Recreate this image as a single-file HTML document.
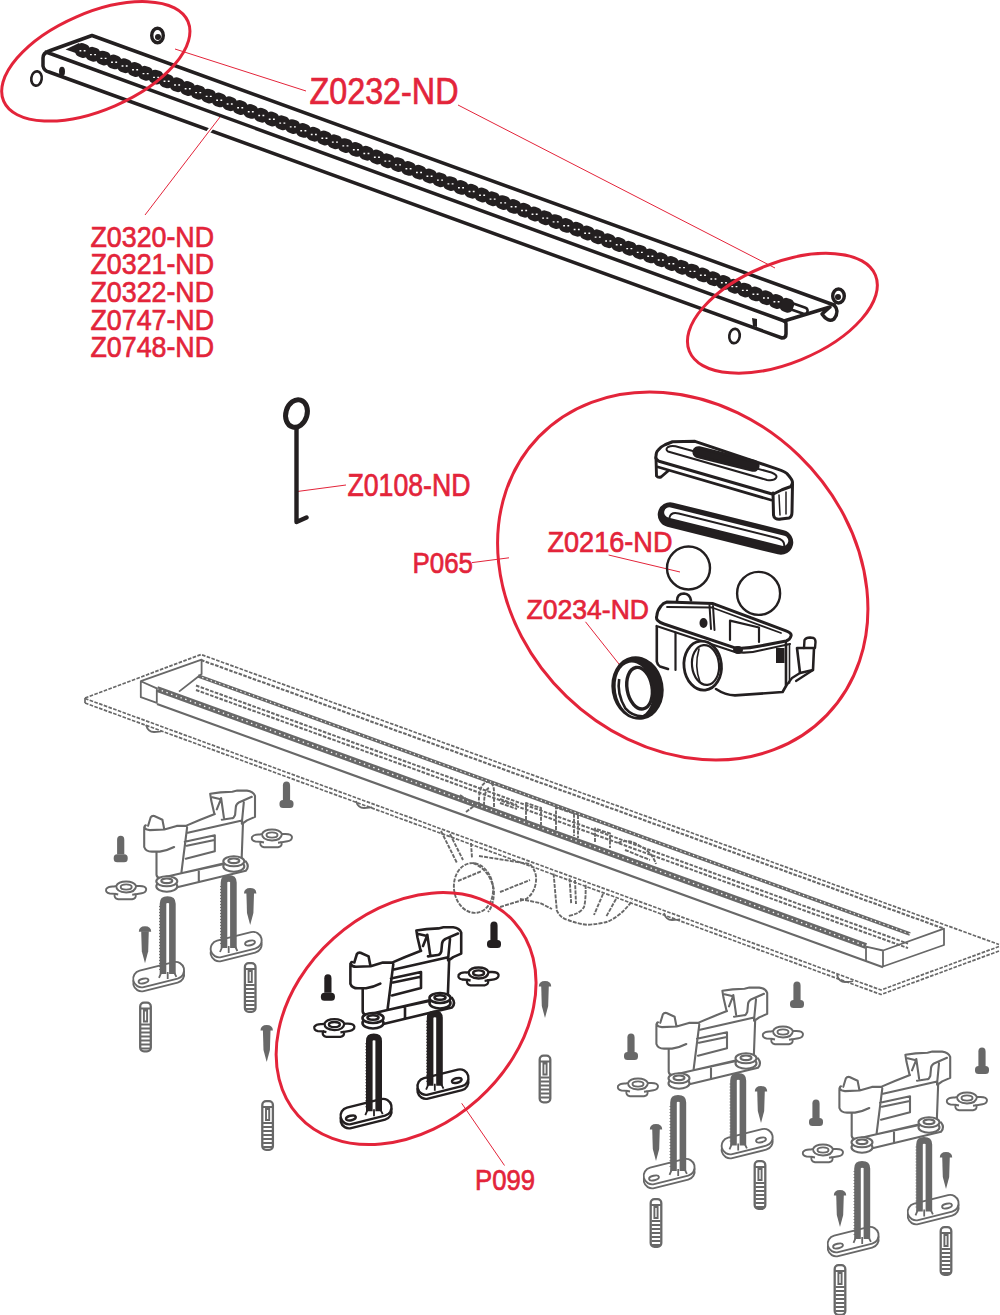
<!DOCTYPE html>
<html><head><meta charset="utf-8"><style>
html,body{margin:0;padding:0;background:#fff;}
svg{display:block;}
text{font-family:"Liberation Sans",sans-serif;fill:#e3243a;stroke:#e3243a;stroke-width:0.7;}
</style></head><body>
<svg width="1000" height="1315" viewBox="0 0 1000 1315">
<rect width="1000" height="1315" fill="#fff"/>
<!-- CHANNEL -->
<g fill="none" stroke="#686868" stroke-width="1.7" stroke-linejoin="round">
<path d="M85,698 L201,654.5 L999,944.5" stroke-dasharray="3.6 1.4"/>
<path d="M85,698.5 L881,990 L999,946.5" stroke-dasharray="3.6 1.4"/>
<path d="M85,703 L881,994.5 L999,951" stroke-dasharray="3.6 1.4"/>
<path d="M85,698 L85,703" />
<path d="M201,660 L944,928.6" stroke-dasharray="3.6 1.4" stroke-width="2.1"/>
<path d="M198,675.9 L910,934" stroke-width="3.6"/>
<path d="M198,675.9 L910,934" stroke="#fff" stroke-width="1.1" stroke-dasharray="1.3 3.2"/>
<path d="M196,685.5 L908,943.6" stroke-dasharray="3.6 1.4" stroke-width="2"/>
<path d="M196,690 L908,948.1" stroke-dasharray="3.6 1.4" stroke-width="2"/>
<path d="M157,689 L866,946" stroke-width="6"/>
<path d="M157,689 L866,946" stroke="#fff" stroke-width="1.3" stroke-dasharray="1.4 3.6"/>
<path d="M157,704 L883,967.2" stroke-width="2.2"/>
<path d="M140.8,681.2 L156.8,688.4 L156.8,702.8 L140.8,697.2 Z M140.8,681.2 L201.6,659.6 L201.6,674 L179,691.6" stroke-width="1.8"/>
<path d="M866,946.6 L883,950.5 L944,928.6 L944,945 L883,966.5 L883,950.5 M866,946.6 L866,961" stroke-width="1.8"/>
<path d="M146,725 Q148,732 154,732 Q160,732 162,731" stroke-width="1.8"/>
<path d="M356,801 Q358,808 364,808 Q370,808 372,807" stroke-width="1.8"/>
<path d="M664,913 Q666,920 672,920 Q678,920 680,919" stroke-width="1.8"/>
<path d="M837,975 Q839,982 845,982 Q851,982 853,981" stroke-width="1.8"/>
</g>
<g fill="none" stroke="#686868" stroke-width="1.9" stroke-linejoin="round" stroke-dasharray="4 1.2">
<path d="M479,806 Q478,786 486,782 Q494,781 494,792 L494,808"/>
<path d="M484,806 Q484,790 489,788"/>
<path d="M500,799 L517,805 M500,803 L517,809"/>
<path d="M526,820 L526,803 L541,808 L541,825"/>
<path d="M556,830 L556,807.5 L574,813.5 L574,836 M578,815 L578,838"/>
<path d="M595,842 L595,828.5 L610,833.5 L610,848"/>
<path d="M618,843 Q628,838 640,846 Q652,852 656,864 M625,850 L650,860"/>
<path d="M460,795 L478,807 M466,812 L478,803"/>
<path d="M441,831 L457,863 M450,834 L463,860 M471,843 L472,858"/>
<ellipse cx="473.5" cy="888" rx="19.5" ry="25" transform="rotate(-8 473.5 888)"/>
<path d="M473,863 Q490,870 494,890 Q494,905 488,912"/>
<path d="M479,856 L530,864 Q537,872 536,881 Q535,893 526,899 L500,907"/>
<path d="M458,881 L482,871 M500,892 L530,880"/>
<path d="M520,899 L540,903 L552,909"/>
<path d="M553.6,873.6 L556.8,910.4 Q560,918 568,920 Q578,924 587.2,924.8 Q600,924 608,921.6 Q622,915 632,900.8"/>
<path d="M569.6,878.4 L571.2,904 M575,880 L576,904 M585.6,884.8 Q586,900 584,907 Q580,914 568,916 M603,894 L594,915 M616,899 L606,917"/>
</g>
<!-- LEGS -->
<g transform="translate(131.5,965)" fill="#fff" stroke="#686868" stroke-width="1.9"><rect x="2" y="5" width="52" height="17" rx="8.5" transform="rotate(-14 28 17)"/><rect x="2" y="1" width="52" height="17" rx="8.5" transform="rotate(-14 28 13)"/><ellipse cx="12" cy="16" rx="5" ry="2.3" transform="rotate(-14 12 16)"/></g>
<g transform="translate(209,935)" fill="#fff" stroke="#686868" stroke-width="1.9"><rect x="2" y="5" width="52" height="17" rx="8.5" transform="rotate(-14 28 17)"/><rect x="2" y="1" width="52" height="17" rx="8.5" transform="rotate(-14 28 13)"/><ellipse cx="41" cy="8" rx="5" ry="2.3" transform="rotate(-14 41 8)"/></g>
<path fill="none" stroke="#686868" stroke-width="6.6" d="M163,973.9 L163,903.7 Q163,899.6 167.5,899.6 Q172.4,899.6 172.4,903.7 L172.4,973.9"/><path fill="none" stroke="#686868" stroke-width="1.8" d="M162,970.9 L159,977.9 M173.4,970.9 L176.4,976.9 M167.7,971.9 L167.7,978.9"/><path fill="none" stroke="#686868" stroke-width="1.2" stroke-dasharray="1 2" d="M159.7,969.9 L159.7,905.2"/>
<path fill="none" stroke="#686868" stroke-width="6.6" d="M224,948 L224,882.5 Q224,878.4 228.5,878.4 Q233.4,878.4 233.4,882.5 L233.4,948"/><path fill="none" stroke="#686868" stroke-width="1.8" d="M223,945 L220,952 M234.4,945 L237.4,951 M228.7,946 L228.7,953"/><path fill="none" stroke="#686868" stroke-width="1.2" stroke-dasharray="1 2" d="M220.7,944 L220.7,884"/>
<g transform="translate(-206.2,-136.7)" fill="none" stroke="#686868" stroke-width="2.1" stroke-linejoin="round" stroke-linecap="round"><path d="M352,962 Q350.4,962.5 350.4,966 L350.4,983.7 Q352,988.3 358,988.3 L366,988.3 Q374,987 380.3,983.7 M354.3,962.5 L356.9,954 Q358,952.3 360.5,952.7 L368.6,956.4 L370.4,965.7 M350.4,964 Q352,966.8 356,966.8 L370.6,966.2 L382.9,962.6 L393,962.6 M362.7,989 L362.7,1011.5 Q363,1014 366,1015 M393.3,964.2 L387.5,1010 M392,962.6 Q405,957 421,950.8 M394,969.5 L447,957.5 M391,978.5 L421,972 L421,988 L392,995.5 M393,982.5 L419.5,977 M449.2,959 L447.8,997 L387.5,1010 M416.4,930.5 L426.6,929.1 L438.5,928.4 L443.4,927.3 L453.2,927.3 Q459.5,928 461.2,932.6 L461.2,953.6 L453.2,957.1 L448.3,960.6 M416.4,930.5 L417.5,937.5 L420.3,949.4 L421,950.8 M418.5,934 L427,936 L423,946 M427.3,934.7 L430.1,954.3 M458,933.5 L445.5,938.9 Q442,941 442,944 L441.3,951.5 Q440,955 437.8,955 L428,956.4 M450,939 L448,960 M366,1015 L447.8,996 M375,1026 L452,1007.5 Q456,1003 452,998 M405,1007.5 L405,1018.5"/><g fill="#fff"><ellipse cx="373" cy="1023" rx="10.5" ry="5.5"/><ellipse cx="373" cy="1018" rx="10.5" ry="5"/><ellipse cx="373" cy="1017.5" rx="5.5" ry="2.3"/><ellipse cx="440" cy="1003" rx="10.5" ry="5.5"/><ellipse cx="440" cy="998" rx="10.5" ry="5"/><ellipse cx="440" cy="997.5" rx="5.5" ry="2.3"/></g></g>
<path fill="#686868" d="M117.1,854.3 L117.1,839.8 Q117.1,835.8 120.7,835.8 Q124.3,835.8 124.3,839.8 L124.3,854.3 Z"/><rect fill="#686868" x="113.7" y="854.3" width="14" height="8" rx="3.5"/>
<path fill="#686868" d="M282.9,800 L282.9,785.5 Q282.9,781.5 286.5,781.5 Q290.1,781.5 290.1,785.5 L290.1,800 Z"/><rect fill="#686868" x="279.5" y="800" width="14" height="8" rx="3.5"/>
<g transform="translate(105.2,881)" fill="#fff" stroke="#686868" stroke-width="1.9"><path d="M9,5.5 Q3,5 1,8 Q0,11.5 4.5,12.5 L9.5,12.8 Q8.5,17.5 13,18.3 L27,18.3 Q31.5,17.5 30.5,13.3 L36.5,12.3 Q41,11.5 41,8 Q40.5,5 34.5,5 L31,5 Q28.5,0.5 21,0.5 Q13,0.5 11,5 Z"/><path fill="none" d="M11,5 Q11,11 21,11.5 Q30,11.5 31,5"/><ellipse cx="21" cy="6" rx="5.5" ry="2.6"/><path fill="none" d="M9.5,12.8 L13,13.5 M30.5,13.3 L27,13.8"/></g>
<g transform="translate(251,829)" fill="#fff" stroke="#686868" stroke-width="1.9"><path d="M9,5.5 Q3,5 1,8 Q0,11.5 4.5,12.5 L9.5,12.8 Q8.5,17.5 13,18.3 L27,18.3 Q31.5,17.5 30.5,13.3 L36.5,12.3 Q41,11.5 41,8 Q40.5,5 34.5,5 L31,5 Q28.5,0.5 21,0.5 Q13,0.5 11,5 Z"/><path fill="none" d="M11,5 Q11,11 21,11.5 Q30,11.5 31,5"/><ellipse cx="21" cy="6" rx="5.5" ry="2.6"/><path fill="none" d="M9.5,12.8 L13,13.5 M30.5,13.3 L27,13.8"/></g>
<g fill="#686868"><path d="M138.8,931.8 Q139,926.3 145,926.3 Q151,926.3 151.2,931.8 Z"/><path d="M141.2,931.3 L148.8,931.3 L148.2,951.3 L145,963.3 L141.8,951.3 Z"/></g>
<g fill="#686868"><path d="M244,893.5 Q244.2,888 250.2,888 Q256.2,888 256.4,893.5 Z"/><path d="M246.4,893 L254,893 L253.4,913 L250.2,925 L247,913 Z"/></g>
<g fill="none" stroke="#686868" stroke-width="2.3"><rect x="140.2" y="1002.6" width="10.6" height="48.8" rx="3.8"/><path d="M140.2,1008.5 H150.8 M143.9,1010.5 V1021.5 H147.1 V1010.5 Z" stroke-width="1.9"/><path d="M141,1024.5 H150 M141,1028.5 H150 M141,1032.5 H150 M141,1036.5 H150 M141,1040.5 H150 M141,1044.5 H150 M141,1048.5 H150" stroke-width="2"/></g>
<g fill="none" stroke="#686868" stroke-width="2.3"><rect x="244.9" y="963.1" width="10.6" height="48.8" rx="3.8"/><path d="M244.9,969 H255.5 M248.6,971 V982 H251.8 V971 Z" stroke-width="1.9"/><path d="M245.7,985 H254.7 M245.7,989 H254.7 M245.7,993 H254.7 M245.7,997 H254.7 M245.7,1001 H254.7 M245.7,1005 H254.7 M245.7,1009 H254.7" stroke-width="2"/></g>
<g transform="translate(338.9,1102)" fill="#fff" stroke="#231f20" stroke-width="2.4"><rect x="2" y="5" width="52" height="17" rx="8.5" transform="rotate(-14 28 17)"/><rect x="2" y="1" width="52" height="17" rx="8.5" transform="rotate(-14 28 13)"/><ellipse cx="12" cy="16" rx="5" ry="2.3" transform="rotate(-14 12 16)"/></g>
<g transform="translate(415.8,1072.5)" fill="#fff" stroke="#231f20" stroke-width="2.4"><rect x="2" y="5" width="52" height="17" rx="8.5" transform="rotate(-14 28 17)"/><rect x="2" y="1" width="52" height="17" rx="8.5" transform="rotate(-14 28 13)"/><ellipse cx="41" cy="8" rx="5" ry="2.3" transform="rotate(-14 41 8)"/></g>
<path fill="none" stroke="#231f20" stroke-width="6.6" d="M369.3,1111.2 L369.3,1041 Q369.3,1036.9 373.8,1036.9 Q378.7,1036.9 378.7,1041 L378.7,1111.2"/><path fill="none" stroke="#231f20" stroke-width="1.8" d="M368.3,1108.2 L365.3,1115.2 M379.7,1108.2 L382.7,1114.2 M374,1109.2 L374,1116.2"/><path fill="none" stroke="#231f20" stroke-width="1.2" stroke-dasharray="1 2" d="M366,1107.2 L366,1042.5"/>
<path fill="none" stroke="#231f20" stroke-width="6.6" d="M430.1,1085.7 L430.1,1018 Q430.1,1013.9 434.6,1013.9 Q439.5,1013.9 439.5,1018 L439.5,1085.7"/><path fill="none" stroke="#231f20" stroke-width="1.8" d="M429.1,1082.7 L426.1,1089.7 M440.5,1082.7 L443.5,1088.7 M434.8,1083.7 L434.8,1090.7"/><path fill="none" stroke="#231f20" stroke-width="1.2" stroke-dasharray="1 2" d="M426.8,1081.7 L426.8,1019.5"/>
<g transform="translate(0,0)" fill="none" stroke="#231f20" stroke-width="2.6" stroke-linejoin="round" stroke-linecap="round"><path d="M352,962 Q350.4,962.5 350.4,966 L350.4,983.7 Q352,988.3 358,988.3 L366,988.3 Q374,987 380.3,983.7 M354.3,962.5 L356.9,954 Q358,952.3 360.5,952.7 L368.6,956.4 L370.4,965.7 M350.4,964 Q352,966.8 356,966.8 L370.6,966.2 L382.9,962.6 L393,962.6 M362.7,989 L362.7,1011.5 Q363,1014 366,1015 M393.3,964.2 L387.5,1010 M392,962.6 Q405,957 421,950.8 M394,969.5 L447,957.5 M391,978.5 L421,972 L421,988 L392,995.5 M393,982.5 L419.5,977 M449.2,959 L447.8,997 L387.5,1010 M416.4,930.5 L426.6,929.1 L438.5,928.4 L443.4,927.3 L453.2,927.3 Q459.5,928 461.2,932.6 L461.2,953.6 L453.2,957.1 L448.3,960.6 M416.4,930.5 L417.5,937.5 L420.3,949.4 L421,950.8 M418.5,934 L427,936 L423,946 M427.3,934.7 L430.1,954.3 M458,933.5 L445.5,938.9 Q442,941 442,944 L441.3,951.5 Q440,955 437.8,955 L428,956.4 M450,939 L448,960 M366,1015 L447.8,996 M375,1026 L452,1007.5 Q456,1003 452,998 M405,1007.5 L405,1018.5"/><g fill="#fff"><ellipse cx="373" cy="1023" rx="10.5" ry="5.5"/><ellipse cx="373" cy="1018" rx="10.5" ry="5"/><ellipse cx="373" cy="1017.5" rx="5.5" ry="2.3"/><ellipse cx="440" cy="1003" rx="10.5" ry="5.5"/><ellipse cx="440" cy="998" rx="10.5" ry="5"/><ellipse cx="440" cy="997.5" rx="5.5" ry="2.3"/></g></g>
<path fill="#231f20" d="M324.3,992.8 L324.3,978.3 Q324.3,974.3 327.9,974.3 Q331.5,974.3 331.5,978.3 L331.5,992.8 Z"/><rect fill="#231f20" x="320.9" y="992.8" width="14" height="8" rx="3.5"/>
<path fill="#231f20" d="M490.4,940 L490.4,925.5 Q490.4,921.5 494,921.5 Q497.6,921.5 497.6,925.5 L497.6,940 Z"/><rect fill="#231f20" x="487" y="940" width="14" height="8" rx="3.5"/>
<g transform="translate(313.4,1018.6)" fill="#fff" stroke="#231f20" stroke-width="2.3"><path d="M9,5.5 Q3,5 1,8 Q0,11.5 4.5,12.5 L9.5,12.8 Q8.5,17.5 13,18.3 L27,18.3 Q31.5,17.5 30.5,13.3 L36.5,12.3 Q41,11.5 41,8 Q40.5,5 34.5,5 L31,5 Q28.5,0.5 21,0.5 Q13,0.5 11,5 Z"/><path fill="none" d="M11,5 Q11,11 21,11.5 Q30,11.5 31,5"/><ellipse cx="21" cy="6" rx="5.5" ry="2.6"/><path fill="none" d="M9.5,12.8 L13,13.5 M30.5,13.3 L27,13.8"/></g>
<g transform="translate(457.6,967)" fill="#fff" stroke="#231f20" stroke-width="2.3"><path d="M9,5.5 Q3,5 1,8 Q0,11.5 4.5,12.5 L9.5,12.8 Q8.5,17.5 13,18.3 L27,18.3 Q31.5,17.5 30.5,13.3 L36.5,12.3 Q41,11.5 41,8 Q40.5,5 34.5,5 L31,5 Q28.5,0.5 21,0.5 Q13,0.5 11,5 Z"/><path fill="none" d="M11,5 Q11,11 21,11.5 Q30,11.5 31,5"/><ellipse cx="21" cy="6" rx="5.5" ry="2.6"/><path fill="none" d="M9.5,12.8 L13,13.5 M30.5,13.3 L27,13.8"/></g>
<g fill="#686868"><path d="M260.5,1030.5 Q260.7,1025 266.7,1025 Q272.7,1025 272.9,1030.5 Z"/><path d="M262.9,1030 L270.5,1030 L269.9,1050 L266.7,1062 L263.5,1050 Z"/></g>
<g fill="#686868"><path d="M538.8,986.5 Q539,981 545,981 Q551,981 551.2,986.5 Z"/><path d="M541.2,986 L548.8,986 L548.2,1006 L545,1018 L541.8,1006 Z"/></g>
<g fill="none" stroke="#686868" stroke-width="2.3"><rect x="262.3" y="1101.1" width="10.6" height="48.8" rx="3.8"/><path d="M262.3,1107 H272.9 M266,1109 V1120 H269.2 V1109 Z" stroke-width="1.9"/><path d="M263.1,1123 H272.1 M263.1,1127 H272.1 M263.1,1131 H272.1 M263.1,1135 H272.1 M263.1,1139 H272.1 M263.1,1143 H272.1 M263.1,1147 H272.1" stroke-width="2"/></g>
<g fill="none" stroke="#686868" stroke-width="2.3"><rect x="539.7" y="1055.6" width="10.6" height="46.8" rx="3.8"/><path d="M539.7,1061.5 H550.3 M543.4,1063.5 V1074.5 H546.6 V1063.5 Z" stroke-width="1.9"/><path d="M540.5,1077.5 H549.5 M540.5,1081.5 H549.5 M540.5,1085.5 H549.5 M540.5,1089.5 H549.5 M540.5,1093.5 H549.5 M540.5,1097.5 H549.5" stroke-width="2"/></g>
<g transform="translate(642,1162)" fill="#fff" stroke="#686868" stroke-width="1.9"><rect x="2" y="5" width="52" height="17" rx="8.5" transform="rotate(-14 28 17)"/><rect x="2" y="1" width="52" height="17" rx="8.5" transform="rotate(-14 28 13)"/><ellipse cx="12" cy="16" rx="5" ry="2.3" transform="rotate(-14 12 16)"/></g>
<g transform="translate(720,1132)" fill="#fff" stroke="#686868" stroke-width="1.9"><rect x="2" y="5" width="52" height="17" rx="8.5" transform="rotate(-14 28 17)"/><rect x="2" y="1" width="52" height="17" rx="8.5" transform="rotate(-14 28 13)"/><ellipse cx="41" cy="8" rx="5" ry="2.3" transform="rotate(-14 41 8)"/></g>
<path fill="none" stroke="#686868" stroke-width="6.6" d="M673.5,1170.9 L673.5,1102.5 Q673.5,1098.4 678,1098.4 Q682.9,1098.4 682.9,1102.5 L682.9,1170.9"/><path fill="none" stroke="#686868" stroke-width="1.8" d="M672.5,1167.9 L669.5,1174.9 M683.9,1167.9 L686.9,1173.9 M678.2,1168.9 L678.2,1175.9"/><path fill="none" stroke="#686868" stroke-width="1.2" stroke-dasharray="1 2" d="M670.2,1166.9 L670.2,1104"/>
<path fill="none" stroke="#686868" stroke-width="6.6" d="M733.5,1145.4 L733.5,1080.5 Q733.5,1076.4 738,1076.4 Q742.9,1076.4 742.9,1080.5 L742.9,1145.4"/><path fill="none" stroke="#686868" stroke-width="1.8" d="M732.5,1142.4 L729.5,1149.4 M743.9,1142.4 L746.9,1148.4 M738.2,1143.4 L738.2,1150.4"/><path fill="none" stroke="#686868" stroke-width="1.2" stroke-dasharray="1 2" d="M730.2,1141.4 L730.2,1082"/>
<g transform="translate(306,60.3)" fill="none" stroke="#686868" stroke-width="2.1" stroke-linejoin="round" stroke-linecap="round"><path d="M352,962 Q350.4,962.5 350.4,966 L350.4,983.7 Q352,988.3 358,988.3 L366,988.3 Q374,987 380.3,983.7 M354.3,962.5 L356.9,954 Q358,952.3 360.5,952.7 L368.6,956.4 L370.4,965.7 M350.4,964 Q352,966.8 356,966.8 L370.6,966.2 L382.9,962.6 L393,962.6 M362.7,989 L362.7,1011.5 Q363,1014 366,1015 M393.3,964.2 L387.5,1010 M392,962.6 Q405,957 421,950.8 M394,969.5 L447,957.5 M391,978.5 L421,972 L421,988 L392,995.5 M393,982.5 L419.5,977 M449.2,959 L447.8,997 L387.5,1010 M416.4,930.5 L426.6,929.1 L438.5,928.4 L443.4,927.3 L453.2,927.3 Q459.5,928 461.2,932.6 L461.2,953.6 L453.2,957.1 L448.3,960.6 M416.4,930.5 L417.5,937.5 L420.3,949.4 L421,950.8 M418.5,934 L427,936 L423,946 M427.3,934.7 L430.1,954.3 M458,933.5 L445.5,938.9 Q442,941 442,944 L441.3,951.5 Q440,955 437.8,955 L428,956.4 M450,939 L448,960 M366,1015 L447.8,996 M375,1026 L452,1007.5 Q456,1003 452,998 M405,1007.5 L405,1018.5"/><g fill="#fff"><ellipse cx="373" cy="1023" rx="10.5" ry="5.5"/><ellipse cx="373" cy="1018" rx="10.5" ry="5"/><ellipse cx="373" cy="1017.5" rx="5.5" ry="2.3"/><ellipse cx="440" cy="1003" rx="10.5" ry="5.5"/><ellipse cx="440" cy="998" rx="10.5" ry="5"/><ellipse cx="440" cy="997.5" rx="5.5" ry="2.3"/></g></g>
<path fill="#686868" d="M627.4,1052 L627.4,1037.5 Q627.4,1033.5 631,1033.5 Q634.6,1033.5 634.6,1037.5 L634.6,1052 Z"/><rect fill="#686868" x="624" y="1052" width="14" height="8" rx="3.5"/>
<path fill="#686868" d="M793.4,1000 L793.4,985.5 Q793.4,981.5 797,981.5 Q800.6,981.5 800.6,985.5 L800.6,1000 Z"/><rect fill="#686868" x="790" y="1000" width="14" height="8" rx="3.5"/>
<g transform="translate(617,1078)" fill="#fff" stroke="#686868" stroke-width="1.9"><path d="M9,5.5 Q3,5 1,8 Q0,11.5 4.5,12.5 L9.5,12.8 Q8.5,17.5 13,18.3 L27,18.3 Q31.5,17.5 30.5,13.3 L36.5,12.3 Q41,11.5 41,8 Q40.5,5 34.5,5 L31,5 Q28.5,0.5 21,0.5 Q13,0.5 11,5 Z"/><path fill="none" d="M11,5 Q11,11 21,11.5 Q30,11.5 31,5"/><ellipse cx="21" cy="6" rx="5.5" ry="2.6"/><path fill="none" d="M9.5,12.8 L13,13.5 M30.5,13.3 L27,13.8"/></g>
<g transform="translate(762,1026)" fill="#fff" stroke="#686868" stroke-width="1.9"><path d="M9,5.5 Q3,5 1,8 Q0,11.5 4.5,12.5 L9.5,12.8 Q8.5,17.5 13,18.3 L27,18.3 Q31.5,17.5 30.5,13.3 L36.5,12.3 Q41,11.5 41,8 Q40.5,5 34.5,5 L31,5 Q28.5,0.5 21,0.5 Q13,0.5 11,5 Z"/><path fill="none" d="M11,5 Q11,11 21,11.5 Q30,11.5 31,5"/><ellipse cx="21" cy="6" rx="5.5" ry="2.6"/><path fill="none" d="M9.5,12.8 L13,13.5 M30.5,13.3 L27,13.8"/></g>
<g fill="#686868"><path d="M649.8,1129.5 Q650,1124 656,1124 Q662,1124 662.2,1129.5 Z"/><path d="M652.2,1129 L659.8,1129 L659.2,1149 L656,1161 L652.8,1149 Z"/></g>
<g fill="#686868"><path d="M754.8,1091.5 Q755,1086 761,1086 Q767,1086 767.2,1091.5 Z"/><path d="M757.2,1091 L764.8,1091 L764.2,1111 L761,1123 L757.8,1111 Z"/></g>
<g fill="none" stroke="#686868" stroke-width="2.3"><rect x="650.7" y="1199.1" width="10.6" height="47.8" rx="3.8"/><path d="M650.7,1205 H661.3 M654.4,1207 V1218 H657.6 V1207 Z" stroke-width="1.9"/><path d="M651.5,1221 H660.5 M651.5,1225 H660.5 M651.5,1229 H660.5 M651.5,1233 H660.5 M651.5,1237 H660.5 M651.5,1241 H660.5 M651.5,1245 H660.5" stroke-width="2"/></g>
<g fill="none" stroke="#686868" stroke-width="2.3"><rect x="754.7" y="1161.1" width="10.6" height="47.8" rx="3.8"/><path d="M754.7,1167 H765.3 M758.4,1169 V1180 H761.6 V1169 Z" stroke-width="1.9"/><path d="M755.5,1183 H764.5 M755.5,1187 H764.5 M755.5,1191 H764.5 M755.5,1195 H764.5 M755.5,1199 H764.5 M755.5,1203 H764.5 M755.5,1207 H764.5" stroke-width="2"/></g>
<g transform="translate(826,1230)" fill="#fff" stroke="#686868" stroke-width="1.9"><rect x="2" y="5" width="52" height="17" rx="8.5" transform="rotate(-14 28 17)"/><rect x="2" y="1" width="52" height="17" rx="8.5" transform="rotate(-14 28 13)"/><ellipse cx="12" cy="16" rx="5" ry="2.3" transform="rotate(-14 12 16)"/></g>
<g transform="translate(906,1198)" fill="#fff" stroke="#686868" stroke-width="1.9"><rect x="2" y="5" width="52" height="17" rx="8.5" transform="rotate(-14 28 17)"/><rect x="2" y="1" width="52" height="17" rx="8.5" transform="rotate(-14 28 13)"/><ellipse cx="41" cy="8" rx="5" ry="2.3" transform="rotate(-14 41 8)"/></g>
<path fill="none" stroke="#686868" stroke-width="6.6" d="M857.5,1238.9 L857.5,1168.5 Q857.5,1164.4 862,1164.4 Q866.9,1164.4 866.9,1168.5 L866.9,1238.9"/><path fill="none" stroke="#686868" stroke-width="1.8" d="M856.5,1235.9 L853.5,1242.9 M867.9,1235.9 L870.9,1241.9 M862.2,1236.9 L862.2,1243.9"/><path fill="none" stroke="#686868" stroke-width="1.2" stroke-dasharray="1 2" d="M854.2,1234.9 L854.2,1170"/>
<path fill="none" stroke="#686868" stroke-width="6.6" d="M919.5,1211.4 L919.5,1144.5 Q919.5,1140.4 924,1140.4 Q928.9,1140.4 928.9,1144.5 L928.9,1211.4"/><path fill="none" stroke="#686868" stroke-width="1.8" d="M918.5,1208.4 L915.5,1215.4 M929.9,1208.4 L932.9,1214.4 M924.2,1209.4 L924.2,1216.4"/><path fill="none" stroke="#686868" stroke-width="1.2" stroke-dasharray="1 2" d="M916.2,1207.4 L916.2,1146"/>
<g transform="translate(489,124.3)" fill="none" stroke="#686868" stroke-width="2.1" stroke-linejoin="round" stroke-linecap="round"><path d="M352,962 Q350.4,962.5 350.4,966 L350.4,983.7 Q352,988.3 358,988.3 L366,988.3 Q374,987 380.3,983.7 M354.3,962.5 L356.9,954 Q358,952.3 360.5,952.7 L368.6,956.4 L370.4,965.7 M350.4,964 Q352,966.8 356,966.8 L370.6,966.2 L382.9,962.6 L393,962.6 M362.7,989 L362.7,1011.5 Q363,1014 366,1015 M393.3,964.2 L387.5,1010 M392,962.6 Q405,957 421,950.8 M394,969.5 L447,957.5 M391,978.5 L421,972 L421,988 L392,995.5 M393,982.5 L419.5,977 M449.2,959 L447.8,997 L387.5,1010 M416.4,930.5 L426.6,929.1 L438.5,928.4 L443.4,927.3 L453.2,927.3 Q459.5,928 461.2,932.6 L461.2,953.6 L453.2,957.1 L448.3,960.6 M416.4,930.5 L417.5,937.5 L420.3,949.4 L421,950.8 M418.5,934 L427,936 L423,946 M427.3,934.7 L430.1,954.3 M458,933.5 L445.5,938.9 Q442,941 442,944 L441.3,951.5 Q440,955 437.8,955 L428,956.4 M450,939 L448,960 M366,1015 L447.8,996 M375,1026 L452,1007.5 Q456,1003 452,998 M405,1007.5 L405,1018.5"/><g fill="#fff"><ellipse cx="373" cy="1023" rx="10.5" ry="5.5"/><ellipse cx="373" cy="1018" rx="10.5" ry="5"/><ellipse cx="373" cy="1017.5" rx="5.5" ry="2.3"/><ellipse cx="440" cy="1003" rx="10.5" ry="5.5"/><ellipse cx="440" cy="998" rx="10.5" ry="5"/><ellipse cx="440" cy="997.5" rx="5.5" ry="2.3"/></g></g>
<path fill="#686868" d="M812.4,1118 L812.4,1103.5 Q812.4,1099.5 816,1099.5 Q819.6,1099.5 819.6,1103.5 L819.6,1118 Z"/><rect fill="#686868" x="809" y="1118" width="14" height="8" rx="3.5"/>
<path fill="#686868" d="M978.4,1066 L978.4,1051.5 Q978.4,1047.5 982,1047.5 Q985.6,1047.5 985.6,1051.5 L985.6,1066 Z"/><rect fill="#686868" x="975" y="1066" width="14" height="8" rx="3.5"/>
<g transform="translate(802,1144)" fill="#fff" stroke="#686868" stroke-width="1.9"><path d="M9,5.5 Q3,5 1,8 Q0,11.5 4.5,12.5 L9.5,12.8 Q8.5,17.5 13,18.3 L27,18.3 Q31.5,17.5 30.5,13.3 L36.5,12.3 Q41,11.5 41,8 Q40.5,5 34.5,5 L31,5 Q28.5,0.5 21,0.5 Q13,0.5 11,5 Z"/><path fill="none" d="M11,5 Q11,11 21,11.5 Q30,11.5 31,5"/><ellipse cx="21" cy="6" rx="5.5" ry="2.6"/><path fill="none" d="M9.5,12.8 L13,13.5 M30.5,13.3 L27,13.8"/></g>
<g transform="translate(946,1092)" fill="#fff" stroke="#686868" stroke-width="1.9"><path d="M9,5.5 Q3,5 1,8 Q0,11.5 4.5,12.5 L9.5,12.8 Q8.5,17.5 13,18.3 L27,18.3 Q31.5,17.5 30.5,13.3 L36.5,12.3 Q41,11.5 41,8 Q40.5,5 34.5,5 L31,5 Q28.5,0.5 21,0.5 Q13,0.5 11,5 Z"/><path fill="none" d="M11,5 Q11,11 21,11.5 Q30,11.5 31,5"/><ellipse cx="21" cy="6" rx="5.5" ry="2.6"/><path fill="none" d="M9.5,12.8 L13,13.5 M30.5,13.3 L27,13.8"/></g>
<g fill="#686868"><path d="M833.8,1195.5 Q834,1190 840,1190 Q846,1190 846.2,1195.5 Z"/><path d="M836.2,1195 L843.8,1195 L843.2,1215 L840,1227 L836.8,1215 Z"/></g>
<g fill="#686868"><path d="M939.8,1157.5 Q940,1152 946,1152 Q952,1152 952.2,1157.5 Z"/><path d="M942.2,1157 L949.8,1157 L949.2,1177 L946,1189 L942.8,1177 Z"/></g>
<g fill="none" stroke="#686868" stroke-width="2.3"><rect x="834.7" y="1265.1" width="10.6" height="49.8" rx="3.8"/><path d="M834.7,1271 H845.3 M838.4,1273 V1284 H841.6 V1273 Z" stroke-width="1.9"/><path d="M835.5,1287 H844.5 M835.5,1291 H844.5 M835.5,1295 H844.5 M835.5,1299 H844.5 M835.5,1303 H844.5 M835.5,1307 H844.5 M835.5,1311 H844.5" stroke-width="2"/></g>
<g fill="none" stroke="#686868" stroke-width="2.3"><rect x="940.7" y="1227.1" width="10.6" height="47.8" rx="3.8"/><path d="M940.7,1233 H951.3 M944.4,1235 V1246 H947.6 V1235 Z" stroke-width="1.9"/><path d="M941.5,1249 H950.5 M941.5,1253 H950.5 M941.5,1257 H950.5 M941.5,1261 H950.5 M941.5,1265 H950.5 M941.5,1269 H950.5 M941.5,1273 H950.5" stroke-width="2"/></g>
<!-- TOP BAR -->
<g fill="none" stroke="#231f20" stroke-width="3.5" stroke-linecap="round" stroke-linejoin="round">
<path d="M834,305 L92,35.5 L49,51 Q43,53 43,58 L43,66 Q44,71 49,72 L782,338 Q786,338 786,334 L786,324 Q786,320.5 783,320.5 L46,52"/>
<path d="M784,321 L830,307 M834,305 Q840,311 834,319 Q828,323 822,314 L830,307"/>
<ellipse cx="838.5" cy="296" rx="5.8" ry="7" stroke-width="3.4"/>
<ellipse cx="157.5" cy="35.5" rx="5.8" ry="7.3" stroke-width="3.4"/>
<rect x="-10" y="-3.2" width="20" height="6.4" rx="3.2" transform="translate(798,308.5) rotate(19)" fill="#fff" stroke-width="2.6"/>
<ellipse cx="36.5" cy="78.5" rx="5.2" ry="7.2" stroke-width="2.6" transform="rotate(8 36.5 78.5)"/>
<ellipse cx="734.5" cy="336" rx="5.2" ry="7.2" stroke-width="2.6" transform="rotate(8 734.5 336)"/>
</g>
<g fill="#231f20">
<circle cx="838" cy="297" r="3"/>
<circle cx="158" cy="37" r="3"/>
<ellipse cx="62" cy="71.5" rx="3" ry="4.8"/>
<path d="M752,318 L757,319 L757,327 L753,326 Z"/>
</g>
<g fill="#231f20">
<path d="M65.5,49.5 L79,43 L83,55.5 Z"/>
<rect x="75.8" y="43.5" width="13.4" height="14" rx="5" transform="rotate(19.9 82.5 50.5)"/>
<rect x="86.3" y="47.3" width="13.4" height="14" rx="5" transform="rotate(19.9 93 54.3)"/>
<rect x="96.8" y="51.1" width="13.4" height="14" rx="5" transform="rotate(19.9 103.5 58.1)"/>
<rect x="107.4" y="54.9" width="13.4" height="14" rx="5" transform="rotate(19.9 114.1 61.9)"/>
<rect x="117.9" y="58.7" width="13.4" height="14" rx="5" transform="rotate(19.9 124.6 65.7)"/>
<rect x="128.4" y="62.5" width="13.4" height="14" rx="5" transform="rotate(19.9 135.1 69.5)"/>
<rect x="138.9" y="66.3" width="13.4" height="14" rx="5" transform="rotate(19.9 145.6 73.3)"/>
<rect x="149.4" y="70.1" width="13.4" height="14" rx="5" transform="rotate(19.9 156.1 77.1)"/>
<rect x="159.9" y="73.9" width="13.4" height="14" rx="5" transform="rotate(19.9 166.6 80.9)"/>
<rect x="170.4" y="77.7" width="13.4" height="14" rx="5" transform="rotate(19.9 177.1 84.7)"/>
<rect x="181" y="81.5" width="13.4" height="14" rx="5" transform="rotate(19.9 187.7 88.5)"/>
<rect x="191.5" y="85.3" width="13.4" height="14" rx="5" transform="rotate(19.9 198.2 92.3)"/>
<rect x="202" y="89.1" width="13.4" height="14" rx="5" transform="rotate(19.9 208.7 96.1)"/>
<rect x="212.5" y="92.9" width="13.4" height="14" rx="5" transform="rotate(19.9 219.2 99.9)"/>
<rect x="223" y="96.7" width="13.4" height="14" rx="5" transform="rotate(19.9 229.7 103.7)"/>
<rect x="233.5" y="100.5" width="13.4" height="14" rx="5" transform="rotate(19.9 240.2 107.5)"/>
<rect x="244.1" y="104.4" width="13.4" height="14" rx="5" transform="rotate(19.9 250.8 111.4)"/>
<rect x="254.6" y="108.2" width="13.4" height="14" rx="5" transform="rotate(19.9 261.3 115.2)"/>
<rect x="265.1" y="112" width="13.4" height="14" rx="5" transform="rotate(19.9 271.8 119)"/>
<rect x="275.6" y="115.8" width="13.4" height="14" rx="5" transform="rotate(19.9 282.3 122.8)"/>
<rect x="286.1" y="119.6" width="13.4" height="14" rx="5" transform="rotate(19.9 292.8 126.6)"/>
<rect x="296.6" y="123.4" width="13.4" height="14" rx="5" transform="rotate(19.9 303.3 130.4)"/>
<rect x="307.1" y="127.2" width="13.4" height="14" rx="5" transform="rotate(19.9 313.8 134.2)"/>
<rect x="317.7" y="131" width="13.4" height="14" rx="5" transform="rotate(19.9 324.4 138)"/>
<rect x="328.2" y="134.8" width="13.4" height="14" rx="5" transform="rotate(19.9 334.9 141.8)"/>
<rect x="338.7" y="138.6" width="13.4" height="14" rx="5" transform="rotate(19.9 345.4 145.6)"/>
<rect x="349.2" y="142.4" width="13.4" height="14" rx="5" transform="rotate(19.9 355.9 149.4)"/>
<rect x="359.7" y="146.2" width="13.4" height="14" rx="5" transform="rotate(19.9 366.4 153.2)"/>
<rect x="370.2" y="150" width="13.4" height="14" rx="5" transform="rotate(19.9 376.9 157)"/>
<rect x="380.7" y="153.8" width="13.4" height="14" rx="5" transform="rotate(19.9 387.4 160.8)"/>
<rect x="391.3" y="157.6" width="13.4" height="14" rx="5" transform="rotate(19.9 398 164.6)"/>
<rect x="401.8" y="161.4" width="13.4" height="14" rx="5" transform="rotate(19.9 408.5 168.4)"/>
<rect x="412.3" y="165.2" width="13.4" height="14" rx="5" transform="rotate(19.9 419 172.2)"/>
<rect x="422.8" y="169" width="13.4" height="14" rx="5" transform="rotate(19.9 429.5 176)"/>
<rect x="433.3" y="172.8" width="13.4" height="14" rx="5" transform="rotate(19.9 440 179.8)"/>
<rect x="443.8" y="176.6" width="13.4" height="14" rx="5" transform="rotate(19.9 450.5 183.6)"/>
<rect x="454.3" y="180.4" width="13.4" height="14" rx="5" transform="rotate(19.9 461 187.4)"/>
<rect x="464.9" y="184.2" width="13.4" height="14" rx="5" transform="rotate(19.9 471.6 191.2)"/>
<rect x="475.4" y="188" width="13.4" height="14" rx="5" transform="rotate(19.9 482.1 195)"/>
<rect x="485.9" y="191.8" width="13.4" height="14" rx="5" transform="rotate(19.9 492.6 198.8)"/>
<rect x="496.4" y="195.6" width="13.4" height="14" rx="5" transform="rotate(19.9 503.1 202.6)"/>
<rect x="506.9" y="199.4" width="13.4" height="14" rx="5" transform="rotate(19.9 513.6 206.4)"/>
<rect x="517.4" y="203.2" width="13.4" height="14" rx="5" transform="rotate(19.9 524.1 210.2)"/>
<rect x="527.9" y="207" width="13.4" height="14" rx="5" transform="rotate(19.9 534.6 214)"/>
<rect x="538.5" y="210.8" width="13.4" height="14" rx="5" transform="rotate(19.9 545.2 217.8)"/>
<rect x="549" y="214.6" width="13.4" height="14" rx="5" transform="rotate(19.9 555.7 221.6)"/>
<rect x="559.5" y="218.4" width="13.4" height="14" rx="5" transform="rotate(19.9 566.2 225.4)"/>
<rect x="570" y="222.2" width="13.4" height="14" rx="5" transform="rotate(19.9 576.7 229.2)"/>
<rect x="580.5" y="226" width="13.4" height="14" rx="5" transform="rotate(19.9 587.2 233)"/>
<rect x="591" y="229.8" width="13.4" height="14" rx="5" transform="rotate(19.9 597.7 236.8)"/>
<rect x="601.5" y="233.7" width="13.4" height="14" rx="5" transform="rotate(19.9 608.2 240.7)"/>
<rect x="612.1" y="237.5" width="13.4" height="14" rx="5" transform="rotate(19.9 618.8 244.5)"/>
<rect x="622.6" y="241.3" width="13.4" height="14" rx="5" transform="rotate(19.9 629.3 248.3)"/>
<rect x="633.1" y="245.1" width="13.4" height="14" rx="5" transform="rotate(19.9 639.8 252.1)"/>
<rect x="643.6" y="248.9" width="13.4" height="14" rx="5" transform="rotate(19.9 650.3 255.9)"/>
<rect x="654.1" y="252.7" width="13.4" height="14" rx="5" transform="rotate(19.9 660.8 259.7)"/>
<rect x="664.6" y="256.5" width="13.4" height="14" rx="5" transform="rotate(19.9 671.3 263.5)"/>
<rect x="675.2" y="260.3" width="13.4" height="14" rx="5" transform="rotate(19.9 681.9 267.3)"/>
<rect x="685.7" y="264.1" width="13.4" height="14" rx="5" transform="rotate(19.9 692.4 271.1)"/>
<rect x="696.2" y="267.9" width="13.4" height="14" rx="5" transform="rotate(19.9 702.9 274.9)"/>
<rect x="706.7" y="271.7" width="13.4" height="14" rx="5" transform="rotate(19.9 713.4 278.7)"/>
<rect x="717.2" y="275.5" width="13.4" height="14" rx="5" transform="rotate(19.9 723.9 282.5)"/>
<rect x="727.7" y="279.3" width="13.4" height="14" rx="5" transform="rotate(19.9 734.4 286.3)"/>
<rect x="738.2" y="283.1" width="13.4" height="14" rx="5" transform="rotate(19.9 744.9 290.1)"/>
<rect x="748.8" y="286.9" width="13.4" height="14" rx="5" transform="rotate(19.9 755.5 293.9)"/>
<rect x="759.3" y="290.7" width="13.4" height="14" rx="5" transform="rotate(19.9 766 297.7)"/>
<rect x="769.8" y="294.5" width="13.4" height="14" rx="5" transform="rotate(19.9 776.5 301.5)"/>
<rect x="780.3" y="298.3" width="13.4" height="14" rx="5" transform="rotate(19.9 787 305.3)"/>
</g>
<path d="M79.5,50.8h1.8 M83.7,50.8h1.8 M90,54.6h1.8 M94.2,54.6h1.8 M100.5,58.4h1.8 M104.7,58.4h1.8 M111.1,62.2h1.8 M115.3,62.2h1.8 M121.6,66h1.8 M125.8,66h1.8 M132.1,69.8h1.8 M136.3,69.8h1.8 M142.6,73.6h1.8 M146.8,73.6h1.8 M153.1,77.4h1.8 M157.3,77.4h1.8 M163.6,81.2h1.8 M167.8,81.2h1.8 M174.1,85h1.8 M178.3,85h1.8 M184.7,88.8h1.8 M188.9,88.8h1.8 M195.2,92.6h1.8 M199.4,92.6h1.8 M205.7,96.4h1.8 M209.9,96.4h1.8 M216.2,100.2h1.8 M220.4,100.2h1.8 M226.7,104h1.8 M230.9,104h1.8 M237.2,107.8h1.8 M241.4,107.8h1.8 M247.8,111.7h1.8 M251.9,111.7h1.8 M258.3,115.5h1.8 M262.5,115.5h1.8 M268.8,119.3h1.8 M273,119.3h1.8 M279.3,123.1h1.8 M283.5,123.1h1.8 M289.8,126.9h1.8 M294,126.9h1.8 M300.3,130.7h1.8 M304.5,130.7h1.8 M310.8,134.5h1.8 M315,134.5h1.8 M321.4,138.3h1.8 M325.6,138.3h1.8 M331.9,142.1h1.8 M336.1,142.1h1.8 M342.4,145.9h1.8 M346.6,145.9h1.8 M352.9,149.7h1.8 M357.1,149.7h1.8 M363.4,153.5h1.8 M367.6,153.5h1.8 M373.9,157.3h1.8 M378.1,157.3h1.8 M384.4,161.1h1.8 M388.6,161.1h1.8 M395,164.9h1.8 M399.2,164.9h1.8 M405.5,168.7h1.8 M409.7,168.7h1.8 M416,172.5h1.8 M420.2,172.5h1.8 M426.5,176.3h1.8 M430.7,176.3h1.8 M437,180.1h1.8 M441.2,180.1h1.8 M447.5,183.9h1.8 M451.7,183.9h1.8 M458,187.7h1.8 M462.2,187.7h1.8 M468.6,191.5h1.8 M472.8,191.5h1.8 M479.1,195.3h1.8 M483.3,195.3h1.8 M489.6,199.1h1.8 M493.8,199.1h1.8 M500.1,202.9h1.8 M504.3,202.9h1.8 M510.6,206.7h1.8 M514.8,206.7h1.8 M521.1,210.5h1.8 M525.3,210.5h1.8 M531.6,214.3h1.8 M535.8,214.3h1.8 M542.2,218.1h1.8 M546.4,218.1h1.8 M552.7,221.9h1.8 M556.9,221.9h1.8 M563.2,225.7h1.8 M567.4,225.7h1.8 M573.7,229.5h1.8 M577.9,229.5h1.8 M584.2,233.3h1.8 M588.4,233.3h1.8 M594.7,237.1h1.8 M598.9,237.1h1.8 M605.2,241h1.8 M609.5,241h1.8 M615.8,244.8h1.8 M620,244.8h1.8 M626.3,248.6h1.8 M630.5,248.6h1.8 M636.8,252.4h1.8 M641,252.4h1.8 M647.3,256.2h1.8 M651.5,256.2h1.8 M657.8,260h1.8 M662,260h1.8 M668.3,263.8h1.8 M672.5,263.8h1.8 M678.9,267.6h1.8 M683.1,267.6h1.8 M689.4,271.4h1.8 M693.6,271.4h1.8 M699.9,275.2h1.8 M704.1,275.2h1.8 M710.4,279h1.8 M714.6,279h1.8 M720.9,282.8h1.8 M725.1,282.8h1.8 M731.4,286.6h1.8 M735.6,286.6h1.8 M741.9,290.4h1.8 M746.1,290.4h1.8 M752.5,294.2h1.8 M756.7,294.2h1.8 M763,298h1.8 M767.2,298h1.8 M773.5,301.8h1.8 M777.7,301.8h1.8" stroke="#fff" stroke-width="1.4" fill="none"/>
<!-- RED ELLIPSES -->
<g fill="none" stroke="#e3243a" stroke-width="3">
<ellipse cx="0" cy="0" rx="100.4" ry="48.5" transform="translate(95.8,61.3) rotate(-23.4)"/>
<ellipse cx="0" cy="0" rx="100.5" ry="50" transform="translate(782.4,313.25) rotate(-22.2)"/>
<ellipse cx="0" cy="0" rx="200.3" ry="167.4" transform="translate(682.75,576) rotate(44)"/>
<ellipse cx="0" cy="0" rx="145.1" ry="108.2" transform="translate(406.1,1018.6) rotate(-41.9)"/>
</g>
<!-- LEADERS -->
<path d="M204,137.5 L215,123.5" stroke="#fff" stroke-width="4"/>
<g stroke="#e3243a" stroke-width="1" fill="none">
<path d="M175,49 L306,91"/>
<path d="M458,105 L775,268"/>
<path d="M145,215 L220,117"/>
<path d="M296.5,491.6 L346,485"/>
<path d="M472,562.6 L509,557.8"/>
<path d="M608.6,555 L680,572"/>
<path d="M585.5,621.8 L622.6,668.6"/>
<path d="M461.7,1103.3 L504.5,1165.5"/>
</g>
<!-- LABELS -->
<text x="309.5" y="104" font-size="36.5" textLength="149" lengthAdjust="spacingAndGlyphs">Z0232-ND</text>
<g font-size="30">
<text x="90.5" y="247.3" textLength="123.5" lengthAdjust="spacingAndGlyphs">Z0320-ND</text>
<text x="90.5" y="274" textLength="123.5" lengthAdjust="spacingAndGlyphs">Z0321-ND</text>
<text x="90.5" y="301.7" textLength="123.5" lengthAdjust="spacingAndGlyphs">Z0322-ND</text>
<text x="90.5" y="329.5" textLength="123.5" lengthAdjust="spacingAndGlyphs">Z0747-ND</text>
<text x="90.5" y="357.2" textLength="123.5" lengthAdjust="spacingAndGlyphs">Z0748-ND</text>
<text x="347.5" y="495.9" font-size="30.5" textLength="123" lengthAdjust="spacingAndGlyphs">Z0108-ND</text>
<text x="412.5" y="572.6" textLength="60.5" lengthAdjust="spacingAndGlyphs">P065</text>
<text x="547.5" y="551.6" textLength="125" lengthAdjust="spacingAndGlyphs">Z0216-ND</text>
<text x="526.5" y="618.6" font-size="28.5" textLength="122.5" lengthAdjust="spacingAndGlyphs">Z0234-ND</text>
<text x="475" y="1189.5" font-size="30" textLength="60" lengthAdjust="spacingAndGlyphs">P099</text>
</g>
<!-- PIN -->
<g fill="none" stroke="#231f20" stroke-width="4.4" stroke-linecap="round" stroke-linejoin="round">
<ellipse cx="0" cy="0" rx="10.6" ry="14" transform="translate(296.5,413.5) rotate(17)" stroke-width="5"/>
<path d="M296.5,428 L296.5,522 L306.5,517.5"/>
</g>
<!-- P065 -->
<g fill="none" stroke="#231f20" stroke-width="2.9" stroke-linejoin="round" stroke-linecap="round">
<!-- lid -->
<path d="M656,458 L656.5,476 Q658,478 661,477 L668,471" />
<path d="M658,467 L771,500" stroke-width="2.8"/>
<path d="M672.5,441.75 L695,441.3 L777.5,469.2 Q786,472 788,474.75 Q792.5,480 792.5,482.25 Q792,486 790.25,486.75 L782,489.75 L773,494.25 L659,461.25 Q655,459 656,456 Q656,452 658.25,450 Q661,446.5 665,444.75 Z" fill="#fff" stroke-width="3"/>
<path d="M675.5,446.25 L771.5,472.5 Q778,475 776,478 Q774,481 767,480 L668,451.5 Q665,449 668,447 Q671,445.5 675.5,446.25 Z" stroke-width="2"/>
<rect x="-33" y="-4.5" width="66" height="9" rx="4.5" transform="translate(726,459) rotate(14)" fill="#231f20"/>
<path d="M773,493 L773.5,515 Q774,520 781,519 L789,518 Q792,517 792,512 L792.5,484" stroke-width="3"/>
<path d="M779,495 L780,515 M786,492 L786,514" stroke-width="1.5"/>
<!-- gasket -->
<g transform="translate(725.5,528.5) rotate(14)">
<rect x="-68" y="-11" width="136" height="22" rx="11" fill="#231f20"/>
<rect x="-65" y="-8.6" width="130.5" height="13.2" rx="6.6" fill="#fff"/>
<path d="M-57,3 Q-57,-3.2 -49,-3.2 L52,-3.2 Q60,-3.2 61,2" fill="none" stroke-width="2"/>
</g>
<!-- balls -->
<circle cx="688.5" cy="568" r="21.5" stroke-width="2.4"/>
<circle cx="758.6" cy="593.4" r="21.5" stroke-width="2.4"/>
<!-- housing -->
<path d="M677,601 Q677,593.5 684,593.5 Q690,594 691,600.5" stroke-width="2.6"/>
<path d="M667,602 L713,603.6 L786,630.8 Q792,633 791,636 Q790,640 786,641 L760,646 Q745,649 735,647.8 L664,624 Q655,621 656.8,616 Q657,611 661,606 Q663,603 667,602 Z" stroke-width="3"/>
<path d="M667,607 L712,607.5 L781,633" stroke-width="1.8"/>
<path d="M656.5,626 L735,652 Q748,654 762,650 L790,644" stroke-width="2.2"/>
<path d="M709.5,605.3 L711,629 M713,606 L714.5,630" stroke-width="2"/>
<path d="M730,640 L730,620.6 L759,627.5 L759,642" stroke-width="2.2"/>
<path d="M656.8,627.4 L656.8,661.4 Q657.5,665 660,666.5 L668,669" stroke-width="2.6"/>
<path d="M675.5,632.5 L675.5,670" stroke-width="2.2"/>
<path d="M716,689 Q725,695 735,695.4 L782.6,692 L786,686 L786,643" stroke-width="2.6"/>
<path d="M789.5,644 L789.5,683" stroke-width="1.6"/>
<ellipse cx="703.5" cy="623" rx="4" ry="5" fill="#231f20" stroke="none"/>
<ellipse cx="738" cy="650" rx="5" ry="4" fill="#231f20" stroke="none"/>
<rect x="776" y="648" width="8.5" height="15" fill="#231f20" stroke="none"/>
<ellipse cx="702.7" cy="665.6" rx="18.7" ry="24.6" transform="rotate(-6 702.7 665.6)" fill="#fff" stroke-width="2.8"/>
<ellipse cx="705.5" cy="665" rx="13.5" ry="20" transform="rotate(-6 705.5 665)" stroke-width="2.2"/>
<path d="M699,649 Q694,666 700,682" stroke-width="1.6"/>
<!-- side nozzle -->
<path d="M804,648 L804.5,640 Q806,637.5 810,637.5 L813.5,638 Q815.5,639 815.5,642 L815,648" stroke-width="2.4"/>
<path d="M797,648 L814,648 L813,670 L800,673 Z" stroke-width="2.6"/>
<path d="M800,673 L792,678 L786,686 M813,670 L796,681" stroke-width="2.2"/>
</g>
<!-- seal ring Z0234 -->
<g transform="rotate(-10 637.5 688)">
<ellipse cx="637.5" cy="688" rx="26" ry="32" fill="#231f20"/>
<ellipse cx="634" cy="689" rx="18.3" ry="27.3" fill="#fff"/>
<path d="M621,676 Q616,690 622,706 Q628,716 640,717" fill="none" stroke="#231f20" stroke-width="2.6"/>
<ellipse cx="639.5" cy="688.5" rx="12.5" ry="21" fill="#fff" stroke="#231f20" stroke-width="3.4"/>
</g>

</svg>
</body></html>
